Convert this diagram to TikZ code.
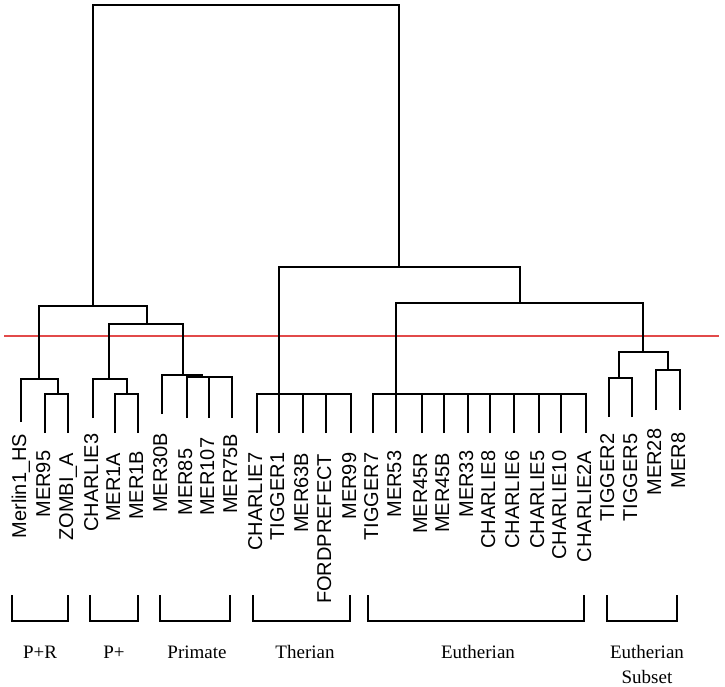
\documentclass[tikz,border=0pt]{standalone}
\usepackage{fontspec}
\setmainfont{Liberation Serif}
\newfontfamily\leaffont{Liberation Sans}
\definecolor{cutred}{RGB}{226,74,74}

\begin{document}
\begin{tikzpicture}[x=1pt,y=-1pt,line width=1.7pt,
    leaf/.style={xshift=-2pt,rotate=90,anchor=east,inner sep=0pt,
      text height=14.3pt,text depth=0pt,font=\leaffont\fontsize{20}{20}\selectfont},
    group/.style={inner sep=0pt,align=center,font=\fontsize{19}{25}\selectfont}]
  \useasboundingbox (0,0) rectangle (725,687);
  % cut level
  \draw[cutred,line width=1.6pt] (4,336) -- (719,336);
  % joins
  \coordinate (root) at (246,5);
  \coordinate (lc) at (93,306);
  \coordinate (rc) at (399,267);
  \coordinate (pr) at (39,379);
  \coordinate (pr2) at (58,394);
  \coordinate (pp) at (147,324);
  \coordinate (pplus) at (109,379);
  \coordinate (pplus2) at (127,394);
  \coordinate (prim) at (183,375);
  \coordinate (prim2) at (202,377);
  \coordinate (ther) at (279,394);
  \coordinate (eu) at (520,303);
  \coordinate (eut) at (396,394);
  \coordinate (sub) at (643,352);
  \coordinate (sub1) at (619,378);
  \coordinate (sub2) at (668,370);
  % leaves
  \foreach \n/\x/\ye/\yt/\t in {merlin/21/422/433/Merlin1\_HS, mer95/45/433/450/MER95,
      zombi/68/433/452/ZOMBI\_A, charlie3/93/418/433/CHARLIE3, mer1a/115/433/452/MER1A,
      mer1b/138/433/450/MER1B, mer30b/162/414/432/MER30B, mer85/187/418/448/MER85,
      mer107/209/418/437/MER107, mer75b/232/418/433/MER75B,
      charlie7/257/433/452/CHARLIE7, tigger1/279/433/452/TIGGER1, mer63b/303/433/452/MER63B,
      fordprefect/326/433/453/FORDPREFECT, mer99/351/433/452/MER99,
      tigger7/373/433/452/TIGGER7, mer53/396/433/450/MER53, mer45r/422/433/452/MER45R,
      mer45b/444/433/452/MER45B, mer33/468/433/450/MER33, charlie8/490/433/450/CHARLIE8,
      charlie6/514/433/450/CHARLIE6, charlie5/539/433/450/CHARLIE5,
      charlie10/561/433/450/CHARLIE10, charlie2a/586/433/450/CHARLIE2A,
      tigger2/609/417/433/TIGGER2, tigger5/632/417/433/TIGGER5,
      mer28/656/410/428/MER28, mer8/680/410/432/MER8}
  {
    \coordinate (\n) at (\x,\ye);
    \node[leaf] (\n-t) at (\x,\yt) {\t};
  }
  % tree
  \foreach \c/\p in {lc/root, rc/root, pr/lc, pp/lc, pr2/pr, pplus/pp, prim/pp,
      pplus2/pplus, prim2/prim, ther/rc, eu/rc, eut/eu, sub/eu, sub1/sub, sub2/sub,
      merlin/pr, mer95/pr2, zombi/pr2, charlie3/pplus, mer1a/pplus2, mer1b/pplus2,
      mer30b/prim, mer85/prim2, mer107/prim2, mer75b/prim2,
      charlie7/ther, tigger1/ther, mer63b/ther, fordprefect/ther, mer99/ther,
      tigger7/eut, mer53/eut, mer45r/eut, mer45b/eut, mer33/eut, charlie8/eut,
      charlie6/eut, charlie5/eut, charlie10/eut, charlie2a/eut,
      tigger2/sub1, tigger5/sub1, mer28/sub2, mer8/sub2}
    \draw (\c) |- (\p);
  % groups
  \foreach \a/\b/\m/\y/\t in {12/68/40/652/P+R, 90/138/114/652/P+, 160/230/197/652/Primate,
      253/350/305/652/Therian, 368/584/478/652/Eutherian,
      607/677/647/664.5/Eutherian\\Subset}
  {
    \draw (\a,595) |- (\b,621) -- (\b,595);
    \node[group] at (\m,\y) {\t};
  }
\end{tikzpicture}
\end{document}
